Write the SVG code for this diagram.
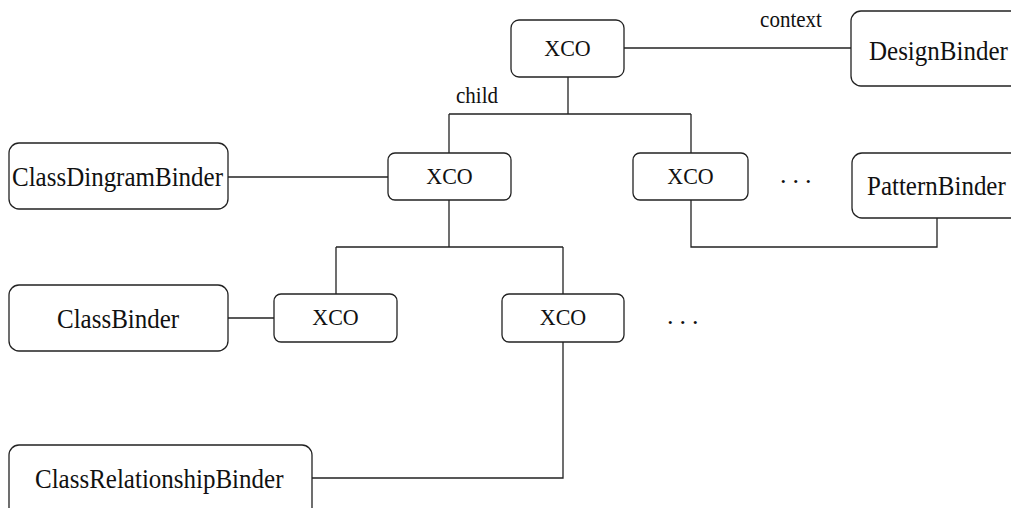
<svg xmlns="http://www.w3.org/2000/svg" width="1011" height="508" viewBox="0 0 1011 508">
  <style>
    .box { fill: #ffffff; stroke: #222222; stroke-width: 1.3; }
    .link { fill: none; stroke: #222222; stroke-width: 1.3; }
    .lbl { font-family: "Liberation Serif", "Times New Roman", serif; fill: #111111; }
    .xco { font-size: 22px; text-anchor: middle; }
    .bind { font-size: 25px; }
    .edge { font-size: 21px; }
    .dots { font-size: 26px; letter-spacing: 6px; }
  </style>
  <rect width="1011" height="508" fill="#ffffff"/>

  <!-- connectors -->
  <g id="connectors">
    <path class="link" d="M624,48 H851"/>
    <path class="link" d="M568,77 V114 M449,114 H691 M449,114 V153 M691,114 V153"/>
    <path class="link" d="M228,177 H388"/>
    <path class="link" d="M449,200 V247 M336,247 H563 M336,247 V294 M563,247 V294"/>
    <path class="link" d="M691,200 V247 H937 V218"/>
    <path class="link" d="M228,318 H274"/>
    <path class="link" d="M563,342 V478 H312"/>
    <text class="lbl edge" transform="translate(791,27) scale(1,1.08)" text-anchor="middle">context</text>
    <text class="lbl edge" transform="translate(477,103) scale(1,1.08)" text-anchor="middle">child</text>
  </g>

  <!-- root XCO -->
  <g id="xco-root">
    <rect class="box" x="511" y="20" width="113" height="57" rx="8"/>
    <text class="lbl xco" transform="translate(567.5,56) scale(1,1.08)">XCO</text>
  </g>

  <g id="design-binder">
    <rect class="box" x="851" y="11" width="170" height="75" rx="10"/>
    <text class="lbl bind" transform="translate(869,60) scale(1,1.1)">DesignBinder</text>
  </g>

  <g id="xco-diagram">
    <rect class="box" x="388" y="153" width="123" height="47" rx="7"/>
    <text class="lbl xco" transform="translate(449.5,184) scale(1,1.08)">XCO</text>
  </g>

  <g id="xco-pattern">
    <rect class="box" x="633" y="153" width="115" height="47" rx="7"/>
    <text class="lbl xco" transform="translate(690.5,184) scale(1,1.08)">XCO</text>
  </g>

  <g id="dots-row2">
    <text class="lbl dots" x="780" y="183">...</text>
  </g>

  <g id="pattern-binder">
    <rect class="box" x="852" y="153" width="170" height="65" rx="10"/>
    <text class="lbl bind" transform="translate(867,195) scale(1,1.1)">PatternBinder</text>
  </g>

  <g id="class-diagram-binder">
    <rect class="box" x="9" y="143" width="219" height="66" rx="10"/>
    <text class="lbl bind" transform="translate(12,186) scale(1,1.1)">ClassDingramBinder</text>
  </g>

  <g id="class-binder">
    <rect class="box" x="9" y="285" width="219" height="66" rx="10"/>
    <text class="lbl bind" transform="translate(57,328) scale(1,1.1)">ClassBinder</text>
  </g>

  <g id="xco-class">
    <rect class="box" x="274" y="294" width="123" height="48" rx="7"/>
    <text class="lbl xco" transform="translate(335.5,325) scale(1,1.08)">XCO</text>
  </g>

  <g id="xco-relationship">
    <rect class="box" x="502" y="294" width="122" height="48" rx="7"/>
    <text class="lbl xco" transform="translate(563,325) scale(1,1.08)">XCO</text>
  </g>

  <g id="dots-row3">
    <text class="lbl dots" x="667" y="324">...</text>
  </g>

  <g id="class-relationship-binder">
    <rect class="box" x="9" y="445" width="303" height="75" rx="10"/>
    <text class="lbl bind" transform="translate(35,488) scale(1,1.1)">ClassRelationshipBinder</text>
  </g>
</svg>
